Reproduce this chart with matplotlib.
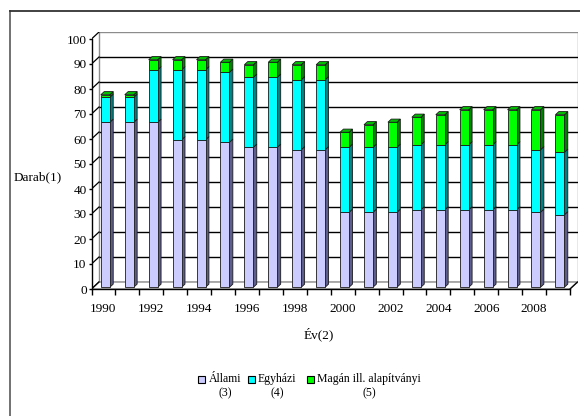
import matplotlib
matplotlib.use('Agg')
import matplotlib.pyplot as plt
from matplotlib.patches import Polygon, Rectangle
from matplotlib.lines import Line2D

# ---------------- data ----------------
years = list(range(1990, 2010))
allami = [66, 66, 66, 59, 59, 58, 56, 56, 55, 55, 30, 30, 30, 31, 31, 31, 31, 31, 30, 29]
egyhazi = [10, 10, 21, 28, 28, 28, 28, 28, 28, 28, 26, 26, 26, 26, 26, 26, 26, 26, 25, 25]
magan = [1, 1, 4, 4, 4, 4, 5, 6, 6, 6, 6, 9, 10, 11, 12, 14, 14, 14, 16, 15]
series_labels = ['Állami\n(3)', 'Egyházi\n(4)', 'Magán ill. alapítványi\n(5)']
y_ticks = list(range(0, 101, 10))
x_labels = [str(y) if y % 2 == 0 else '' for y in years]
y_title = 'Darab(1)'
x_title = 'Év(2)'

front_col = ['#CCCCFF', '#00FFFF', '#00FF00']
side_col = ['#5E5E8C', '#008080', '#008000']
top_col = ['#A0A0D0', '#00C8C8', '#00BE00']

plt.rcParams['font.family'] = ['Liberation Serif', 'DejaVu Serif']
FS = 9.5

# ---------------- layout (pixels) ----------------
W, H = 580, 416
fig = plt.figure(figsize=(W / 100, H / 100), dpi=100)
FL, FR = 91.5, 570.0     # front floor left / right
F0, F100 = 289.0, 39.0   # front y of value 0 / 100
DEPTH_PX = (7.5, 7.0)    # depth shift right / up
n = len(years)
cat_px = (FR - FL) / n
val_px = (F0 - F100) / 100.0
DX = DEPTH_PX[0] / cat_px
DY = DEPTH_PX[1] / val_px
ax = fig.add_axes([FL / W, (H - F0) / H, (n + DX) * cat_px / W, (100 + DY) * val_px / H])
ax.set_xlim(-0.5, n - 0.5 + DX)
ax.set_ylim(0, 100 + DY)
ax.patch.set_visible(False)
for s in ['top', 'right']:
    ax.spines[s].set_visible(False)
ax.spines['left'].set_bounds(0, 100)
ax.spines['bottom'].set_bounds(-0.5, n - 0.5)
for s in ['left', 'bottom']:
    ax.spines[s].set_color('black')
    ax.spines[s].set_linewidth(1.0)
    ax.spines[s].set_zorder(6)

gray = '#8c8c8c'
x0b, x1b = -0.5 + DX, n - 0.5 + DX
# back wall
ax.add_patch(Rectangle((x0b, DY), x1b - x0b, 100, facecolor='white', edgecolor=gray, lw=1.0, zorder=1))
for v in y_ticks[1:-1]:
    ax.plot([x0b, x1b], [v + DY, v + DY], color='black', lw=1.0, zorder=2, solid_capstyle='butt')
# left side wall diagonals
for v in y_ticks:
    ax.plot([-0.5, x0b], [v, v + DY], color='black', lw=0.9, zorder=2)
# floor
ax.add_patch(Polygon([(-0.5, 0), (n - 0.5, 0), (x1b, DY), (x0b, DY)], closed=True,
                     facecolor='white', edgecolor=gray, lw=1.0, zorder=2))
ax.plot([n - 0.5, x1b], [0, DY], color='black', lw=0.9, zorder=3)
ax.plot([-0.5, x0b], [0, DY], color='black', lw=0.9, zorder=3)

# ---------------- bars ----------------
BW = 9.0 / cat_px
f0, f1 = 0.25, 0.70
ddx, ddy = (f1 - f0) * DX, (f1 - f0) * DY
series = [allami, egyhazi, magan]
ec = '#1a1a1a'
lw = 0.6
for i in range(n):
    xa = i - BW / 2 + f0 * DX
    xb = xa + BW
    yo = f0 * DY
    base = 0
    last = max(k for k in range(3) if series[k][i] > 0)
    for k in range(3):
        h = series[k][i]
        if h <= 0:
            continue
        ya, yb = base + yo, base + h + yo
        ax.add_patch(Polygon([(xb, ya), (xb + ddx, ya + ddy), (xb + ddx, yb + ddy), (xb, yb)],
                             closed=True, facecolor=side_col[k], edgecolor=ec, lw=lw, zorder=4))
        ax.add_patch(Rectangle((xa, ya), BW, h, facecolor=front_col[k], edgecolor=ec, lw=lw, zorder=5))
        if k == last:
            ax.add_patch(Polygon([(xa, yb), (xb, yb), (xb + ddx, yb + ddy), (xa + ddx, yb + ddy)],
                                 closed=True, facecolor=top_col[k], edgecolor=ec, lw=lw, zorder=5))
        base += h

# ---------------- ticks ----------------
ax.set_yticks(y_ticks)
ax.set_yticklabels([str(v) for v in y_ticks], fontsize=FS)
ax.tick_params(axis='y', direction='out', length=2.5, width=1.0, pad=1.0, colors='black')
ax.set_xticks([i - 0.5 for i in range(n + 1)])
ax.set_xticklabels([''] * (n + 1))
ax.tick_params(axis='x', which='major', direction='out', length=4, width=1.0, colors='black')
ax.set_xticks(list(range(n)), minor=True)
ax.set_xticklabels(x_labels, minor=True, fontsize=FS)
ax.tick_params(axis='x', which='minor', length=0, pad=10)

# ---------------- titles ----------------
def px(x, y):
    return x / W, 1 - y / H

fig.text(*px(38, 177), y_title, ha='center', va='center', fontsize=FS)
fig.text(*px(319, 334), x_title, ha='center', va='center', fontsize=FS)

# ---------------- legend ----------------
leg_items = [(198, 209), (248, 258), (307, 317)]
for k, (bx, tx) in enumerate(leg_items):
    fig.patches.append(Rectangle(px(bx, 383), 7 / W, 7 / H, transform=fig.transFigure,
                                 facecolor=front_col[k], edgecolor='black', lw=0.8))
    fig.text(*px(tx, 373), series_labels[k], ha='left', va='top', fontsize=8.5,
             multialignment='center', linespacing=1.25)

# ---------------- frame ----------------
fig.add_artist(Line2D([10 / W, 10 / W], [0, 1 - 11 / H], transform=fig.transFigure, color='#666666', lw=1.3))
fig.add_artist(Line2D([10 / W, 1], [1 - 11 / H, 1 - 11 / H], transform=fig.transFigure, color='#333333', lw=1.3))

fig.savefig('out.png', dpi=100)
